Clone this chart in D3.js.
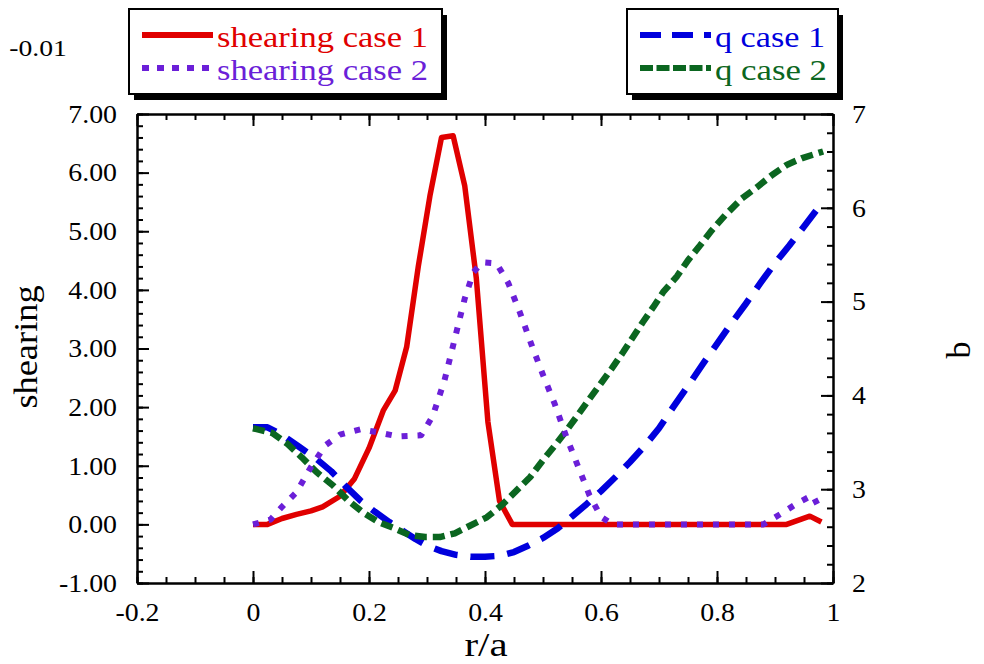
<!DOCTYPE html>
<html>
<head>
<meta charset="utf-8">
<script src="https://cdn.jsdelivr.net/npm/d3@7"></script>
<style>
  html, body { margin: 0; padding: 0; background: #fff; }
  svg { display: block; }
  text { font-family: "Liberation Serif", "DejaVu Serif", serif; fill: #000; }
</style>
</head>
<body>
<svg id="chart" width="984" height="664"></svg>
<script>
// Shearing profiles (left axis) versus r/a
const shearCase1 = [
  [0, 0], [0.025, 0], [0.05, 0.1], [0.075, 0.17], [0.1, 0.23], [0.12, 0.3],
  [0.15, 0.48], [0.175, 0.78], [0.2, 1.3], [0.225, 1.95], [0.245, 2.28],
  [0.265, 3.03], [0.285, 4.4], [0.305, 5.6], [0.325, 6.6], [0.345, 6.63],
  [0.365, 5.78], [0.385, 4.2], [0.405, 1.75], [0.425, 0.4], [0.447, 0],
  [0.5, 0], [0.6, 0], [0.7, 0], [0.8, 0], [0.92, 0], [0.96, 0.14], [0.98, 0.04]
];
const shearCase2 = [
  [0, 0], [0.03, 0.08], [0.05, 0.3], [0.075, 0.55], [0.1, 0.98], [0.125, 1.35],
  [0.15, 1.53], [0.185, 1.62], [0.21, 1.58], [0.25, 1.5], [0.29, 1.52],
  [0.31, 1.85], [0.33, 2.45], [0.35, 3.25], [0.365, 3.85], [0.38, 4.3],
  [0.395, 4.47], [0.42, 4.45], [0.44, 4.12], [0.46, 3.62], [0.48, 3.07],
  [0.5, 2.55], [0.52, 2.06], [0.54, 1.5], [0.56, 1.0], [0.58, 0.5], [0.6, 0.13],
  [0.62, 0], [0.7, 0], [0.8, 0], [0.88, 0], [0.91, 0.18], [0.94, 0.37],
  [0.965, 0.5], [0.98, 0.2]
];
// q profiles (right axis, "b") versus r/a
const qCase1 = [
  [0, 3.66], [0.025, 3.66], [0.05, 3.58], [0.08, 3.45], [0.11, 3.32], [0.135, 3.19],
  [0.16, 3.03], [0.185, 2.88], [0.21, 2.76], [0.235, 2.65], [0.26, 2.55],
  [0.28, 2.47], [0.3, 2.4], [0.325, 2.34], [0.35, 2.3], [0.375, 2.28], [0.4, 2.28],
  [0.425, 2.29], [0.45, 2.33], [0.475, 2.4], [0.5, 2.48], [0.525, 2.58],
  [0.55, 2.71], [0.575, 2.84], [0.6, 2.98], [0.625, 3.13], [0.65, 3.29],
  [0.675, 3.46], [0.7, 3.65], [0.725, 3.88], [0.75, 4.1], [0.775, 4.33],
  [0.8, 4.55], [0.825, 4.77], [0.85, 4.98], [0.875, 5.2], [0.9, 5.41],
  [0.925, 5.6], [0.95, 5.8], [0.972, 5.98]
];
const qCase2 = [
  [0, 3.65], [0.033, 3.6], [0.058, 3.49], [0.084, 3.34], [0.11, 3.18], [0.138, 3.04],
  [0.164, 2.88], [0.19, 2.75], [0.216, 2.65], [0.241, 2.59], [0.27, 2.51],
  [0.297, 2.49], [0.322, 2.49], [0.348, 2.53], [0.374, 2.61], [0.403, 2.7],
  [0.429, 2.83], [0.455, 2.99], [0.478, 3.13], [0.5, 3.31], [0.521, 3.47],
  [0.541, 3.63], [0.56, 3.79], [0.581, 3.97], [0.6, 4.13], [0.619, 4.29],
  [0.638, 4.46], [0.655, 4.62], [0.672, 4.78], [0.69, 4.94], [0.707, 5.1],
  [0.731, 5.27], [0.75, 5.44], [0.771, 5.6], [0.791, 5.76], [0.814, 5.92],
  [0.843, 6.1], [0.869, 6.22], [0.895, 6.35], [0.921, 6.46], [0.947, 6.53],
  [0.983, 6.6]
];

// Tick values and labels
const xTicks = [-0.2, 0, 0.2, 0.4, 0.6, 0.8, 1];
const xTickLabels = ["-0.2", "0", "0.2", "0.4", "0.6", "0.8", "1"];
const yLeftTicks = [-1, 0, 1, 2, 3, 4, 5, 6, 7];
const yLeftTickLabels = ["-1.00", "0.00", "1.00", "2.00", "3.00", "4.00", "5.00", "6.00", "7.00"];
const yRightTicks = [2, 3, 4, 5, 6, 7];
const yRightTickLabels = ["2", "3", "4", "5", "6", "7"];

const FONT = "'Liberation Serif', 'DejaVu Serif', serif";
const TEXT_STRETCH = 1.07;   // glyphs are set slightly wide

const svg = d3.select("#chart");

const plot = { left: 137, right: 833, top: 114, bottom: 583 };
const x = d3.scaleLinear().domain([-0.2, 1]).range([plot.left, plot.right]);
const yL = d3.scaleLinear().domain([-1, 7]).range([plot.bottom, plot.top]);
const yR = d3.scaleLinear().domain([2, 7]).range([plot.bottom, plot.top]);

const xMinor = d3.range(-0.2, 1.0001, 0.05).map(v => +v.toFixed(3));
const yLMinor = d3.range(-1, 7.0001, 0.2).map(v => +v.toFixed(3));
const yRMinor = d3.range(2, 7.0001, 0.2).map(v => +v.toFixed(3));

const MAJOR = 12, MINOR = 6;

// widen a text element horizontally by a factor
function stretch(sel, k) {
  sel.each(function () {
    const w = this.getComputedTextLength();
    if (w > 0) {
      d3.select(this).attr("textLength", w * k).attr("lengthAdjust", "spacingAndGlyphs");
    }
  });
}

function styleAxis(g) {
  g.attr("font-family", FONT);
  g.selectAll("path.domain").attr("stroke", "#000").attr("stroke-width", 2);
  g.selectAll(".tick line").attr("stroke", "#000").attr("stroke-width", 2);
  g.selectAll(".tick text").style("font-family", FONT).attr("fill", "#000");
}

function labelOf(values, labels) {
  return d => labels[values.findIndex(v => Math.abs(v - d) < 1e-9)];
}

function tickText(g) {
  g.selectAll(".tick text").attr("font-size", 26).call(stretch, TEXT_STRETCH);
}

// Bottom axis
svg.append("g").attr("transform", `translate(0,${plot.bottom})`)
  .call(d3.axisBottom(x).tickValues(xMinor).tickSize(-MINOR).tickSizeOuter(0).tickFormat(""))
  .call(styleAxis);
svg.append("g").attr("transform", `translate(0,${plot.bottom})`)
  .call(d3.axisBottom(x).tickValues(xTicks).tickSize(-MAJOR).tickSizeOuter(0)
    .tickPadding(20).tickFormat(labelOf(xTicks, xTickLabels)))
  .call(styleAxis)
  .call(tickText);

// Top axis (ticks only)
svg.append("g").attr("transform", `translate(0,${plot.top})`)
  .call(d3.axisTop(x).tickValues(xMinor).tickSize(-MINOR).tickSizeOuter(0).tickFormat(""))
  .call(styleAxis);
svg.append("g").attr("transform", `translate(0,${plot.top})`)
  .call(d3.axisTop(x).tickValues(xTicks).tickSize(-MAJOR).tickSizeOuter(0).tickFormat(""))
  .call(styleAxis);

// Left axis
svg.append("g").attr("transform", `translate(${plot.left},0)`)
  .call(d3.axisLeft(yL).tickValues(yLMinor).tickSize(-MINOR).tickSizeOuter(0).tickFormat(""))
  .call(styleAxis);
svg.append("g").attr("transform", `translate(${plot.left},0)`)
  .call(d3.axisLeft(yL).tickValues(yLeftTicks).tickSize(-MAJOR).tickSizeOuter(0)
    .tickPadding(20).tickFormat(labelOf(yLeftTicks, yLeftTickLabels)))
  .call(styleAxis)
  .call(tickText);

// Right axis
svg.append("g").attr("transform", `translate(${plot.right},0)`)
  .call(d3.axisRight(yR).tickValues(yRMinor).tickSize(-MINOR).tickSizeOuter(0).tickFormat(""))
  .call(styleAxis);
svg.append("g").attr("transform", `translate(${plot.right},0)`)
  .call(d3.axisRight(yR).tickValues(yRightTicks).tickSize(-MAJOR).tickSizeOuter(0)
    .tickPadding(19).tickFormat(labelOf(yRightTicks, yRightTickLabels)))
  .call(styleAxis)
  .call(tickText);

// Series
const series = [
  { name: "shearing case 1", data: shearCase1, y: yL, color: "#e00000", width: 5.5, dash: null },
  { name: "q case 1", data: qCase1, y: yR, color: "#0000dd", width: 6.5, dash: "24,13" },
  { name: "q case 2", data: qCase2, y: yR, color: "#0b6620", width: 6.5, dash: "12,6" },
  { name: "shearing case 2", data: shearCase2, y: yL, color: "#6b1fd8", width: 6, dash: "6,10" }
];

series.forEach(s => {
  const line = d3.line().x(d => x(d[0])).y(d => s.y(d[1]));
  svg.append("path")
    .datum(s.data)
    .attr("d", line)
    .attr("fill", "none")
    .attr("stroke", s.color)
    .attr("stroke-width", s.width)
    .attr("stroke-dasharray", s.dash)
    .attr("stroke-linejoin", "round")
    .attr("stroke-linecap", "butt");
});

// Axis titles
function label(sel) { return sel.style("font-family", FONT); }
svg.append("text")
  .attr("transform", "translate(37,347) rotate(-90)")
  .attr("text-anchor", "middle")
  .attr("font-size", 34)
  .call(label)
  .text("shearing")
  .call(stretch, TEXT_STRETCH);
svg.append("text")
  .attr("transform", "translate(970,350) rotate(-90)")
  .attr("text-anchor", "middle")
  .attr("font-size", 34)
  .call(label)
  .text("b");
svg.append("text")
  .attr("x", 486).attr("y", 656)
  .attr("text-anchor", "middle")
  .attr("font-size", 34)
  .call(label)
  .text("r/a")
  .call(stretch, 1.2);
svg.append("text")
  .attr("x", 38).attr("y", 56)
  .attr("text-anchor", "middle")
  .attr("font-size", 24)
  .call(label)
  .text("-0.01")
  .call(stretch, 1.15);

// Legends
function legend(box, items) {
  const g = svg.append("g");
  g.append("rect")
    .attr("x", box.x + 5).attr("y", box.y + 6)
    .attr("width", box.w).attr("height", box.h)
    .attr("fill", "#000");
  g.append("rect")
    .attr("x", box.x).attr("y", box.y)
    .attr("width", box.w).attr("height", box.h)
    .attr("fill", "#fff").attr("stroke", "#000").attr("stroke-width", 2);
  items.forEach((it, i) => {
    const ly = box.y + 26 + i * 33;
    g.append("line")
      .attr("x1", box.x + 13).attr("x2", box.x + 84)
      .attr("y1", ly).attr("y2", ly)
      .attr("stroke", it.s.color)
      .attr("stroke-width", 6)
      .attr("stroke-dasharray", it.legendDash);
    g.append("text")
      .attr("x", box.x + 88).attr("y", ly + 12)
      .attr("font-size", 30)
      .call(label)
      .style("fill", it.s.color)
      .attr("textLength", it.len)
      .attr("lengthAdjust", "spacingAndGlyphs")
      .text(it.s.name);
  });
}

legend({ x: 129, y: 9, w: 313, h: 85 }, [
  { s: series[0], legendDash: null, len: 211 },
  { s: series[3], legendDash: "7,8", len: 211 }
]);
legend({ x: 627, y: 9, w: 211, h: 85 }, [
  { s: series[1], legendDash: "21,11", len: 110 },
  { s: series[2], legendDash: "13,3.5", len: 112 }
]);
</script>
</body>
</html>
